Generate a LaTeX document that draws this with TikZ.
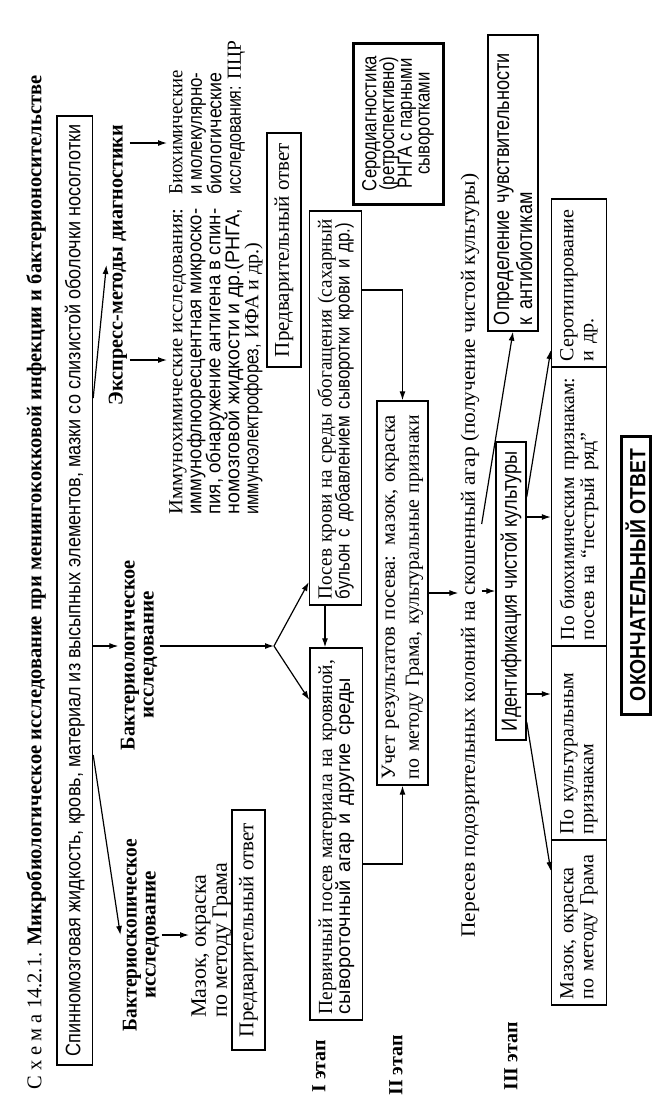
\documentclass[tikz,border=0pt]{standalone}
\usepackage{graphicx}
\usepackage{fontspec}
\setmainfont{Liberation Serif}
\newfontfamily\nsans{Liberation Sans}[FakeStretch=0.82]
\usetikzlibrary{arrows.meta}
\newcommand\fit[2]{\resizebox{#1}{\height}{#2}}
\newcommand\fs{\rmfamily\fontsize{10}{9.5}\selectfont\lineskiplimit=-\maxdimen}
\newcommand\fbio{\rmfamily\fontsize{10}{9.75}\selectfont\lineskiplimit=-\maxdimen}
\newcommand\fn{\nsans\fontsize{10.2}{8.9}\selectfont\lineskiplimit=-\maxdimen}
\newcommand\ftop{\nsans\fontsize{10.5}{10.5}\selectfont}
\newcommand\fh{\bfseries\fontsize{10.5}{9.5}\selectfont\lineskiplimit=-\maxdimen}
\newcommand\fst{\bfseries\fontsize{10}{10}\selectfont}
\newcommand\fps{\rmfamily\fontsize{10}{9}\selectfont\lineskiplimit=-\maxdimen}
\newcommand\fb{\rmfamily\fontsize{10}{10}\selectfont\lineskiplimit=-\maxdimen}
\newcommand\fm{\rmfamily\fontsize{11}{10.5}\selectfont\lineskiplimit=-\maxdimen}
\newcommand\fpa{\rmfamily\fontsize{10.5}{10.5}\selectfont}
\newcommand\fu{\rmfamily\fontsize{10}{12}\selectfont}
\newcommand\fid{\nsans\fontsize{11}{11}\selectfont}
\newcommand\fop{\nsans\fontsize{11}{11.5}\selectfont}
\newcommand\ffin{\nsans\bfseries\fontsize{11}{11}\selectfont}
\newcommand\ftitle{\rmfamily\fontsize{10.5}{12}\selectfont}
\newcommand\fper{\rmfamily\fontsize{10.2}{12}\selectfont}
\begin{document}
\begin{tikzpicture}[x=0.5pt,y=-0.5pt,
  every node/.append style={rotate=90},
  box/.style={draw, line width=0.7pt, inner xsep=3pt, inner ysep=1pt},
  tbox/.style={box, line width=1.5pt},
  arr/.style={line width=0.6pt, -{Latex[length=4.5pt,width=3pt]}},
  lbl/.style={inner sep=1pt}]
\useasboundingbox (0,0) rectangle (671,1116);

% title
\node[lbl, font=\ftitle] (title) at (36,582.5)
  {\fit{507pt}{С\hspace{0.25em}х\hspace{0.25em}е\hspace{0.25em}м\hspace{0.25em}а 14.2.1. \textbf{Микробиологическое исследование при менингококковой инфекции и бактерионосительстве}}};

% source
\node[box, minimum width=474.5pt, minimum height=17.75pt, font=\ftop] (top) at (74.75,590.5)
  {\fit{466pt}{Спинномозговая жидкость, кровь, материал из высыпных элементов, мазки со слизистой оболочки носоглотки}};

% headers
\node[lbl, font=\fh] (exp) at (118,265) {\fit{140pt}{Экспресс-методы диагностики}};
\node[lbl, font=\fh, align=center] (bac) at (139,655) {\fit{95pt}{Бактериологическое}\\исследование};
\node[lbl, font=\fh, align=center] (bsc) at (141,935) {\fit{96pt}{Бактериоскопическое}\\исследование};

% bacterioscopy
\node[lbl, font=\fm, align=left, anchor=north west] (mz1) at (189,1020)
  {Мазок, окраска\\по методу Грама};
\node[box, minimum width=120pt, minimum height=16.5pt, font=\fpa] (pa1) at (248.5,930) {Предварительный ответ};

% express
\node[lbl, font=\fs, align=left, anchor=north west] (imm) at (167,517)
  {\fit{153pt}{Иммунохимические исследования:}\\\fit{153pt}{\nsans иммунофлюоресцентная микроско-}\\\fit{153pt}{\nsans пия, обнаружение антигена в спин-}\\\fit{153pt}{\nsans номозговой жидкости и др.(РНГА,}\\{\nsans иммуноэлектрофорез,} ИФА и др.)};
\node[lbl, font=\fbio, align=left, anchor=north west] (bio) at (167,197)
  {\fit{62pt}{Биохимические}\\\fit{61pt}{\nsans и молекулярно-}\\\fit{61pt}{\nsans биологические}\\\fit{77pt}{{\nsans исследования:} ПЦР}};
\node[box, minimum width=117pt, minimum height=17pt, font=\fpa] (pa2) at (284,250) {Предварительный ответ};

% serodiagnosis
\node[tbox, minimum width=80.5pt, minimum height=45pt, align=center, font=\fn] (ser) at (398,123.5)
  {Серодиагностика\\(ретроспективно)\\РНГА с парными\\сыворотками};

% bacteriology, stage I
\node[box, text width=191pt, minimum height=26pt, align=left, font=\fps] (psk) at (335.5,408)
  {\fit{190pt}{Посев крови на среды обогащения (сахарный}\\\fit{188pt}{\nsans бульон с добавлением сыворотки крови и др.)}};
\node[box, text width=180pt, minimum height=26.25pt, align=left, font=\fps] (prv) at (336.25,834)
  {\fit{177pt}{Первичный посев материала на кровяной,}\\\fit{168pt}{\nsans сывороточный агар и другие среды}};

% stage II
\node[box, text width=186pt, minimum height=25.5pt, align=left, font=\fu] (uch) at (402.5,593)
  {\fit{182pt}{Учет результатов посева: мазок, окраска}\\\fit{182pt}{по методу Грама, культуральные признаки}};

% stage labels
\node[lbl, font=\fst, anchor=west] (st1) at (319,1095) {I этап};
\node[lbl, font=\fst, anchor=west] (st2) at (396,1098) {II этап};
\node[lbl, font=\fst, anchor=west] (st3) at (511,1093) {III этап};

% subculture
\node[lbl, font=\fper, anchor=west] (per) at (470,940)
  {\fit{382pt}{Пересев подозрительных колоний на скошенный агар (получение чистой культуры)}};

% stage III
\node[box, minimum width=149pt, minimum height=15pt, font=\fid] (idn) at (511,591) {\fit{140pt}{Идентификация чистой культуры}};
\node[box, text width=142pt, minimum height=25pt, align=left, font=\fop] (opr) at (513,183)
  {\fit{136pt}{Определение чувствительности}\\к антибиотикам};

\node[box, text width=76.5pt, minimum height=27.5pt, align=left, font=\fb] (b1) at (579,922.5) {Мазок, окраска\\по методу Грама};
\node[box, text width=91pt, minimum height=27.5pt, align=left, font=\fb] (b2) at (579,743) {По культуральным\\признакам};
\node[box, text width=133.5pt, minimum height=27.5pt, align=left, font=\fb] (b3) at (579,506.5) {\fit{131pt}{По биохимическим признакам:}\\посев на “пестрый ряд”};
\node[box, text width=78pt, minimum height=27.5pt, align=left, font=\fb] (b4) at (579,283) {Серотипирование\\и др.};

\node[tbox, minimum width=139pt, minimum height=14.5pt, font=\ffin] (fin) at (635.5,575) {\fit{126pt}{ОКОНЧАТЕЛЬНЫЙ ОТВЕТ}};

% connectors
\coordinate (j) at (274,646);
\draw[arr] (top.south |- 0,398) -- (exp.north);
\draw[arr] (top.south |- 0,646) -- (bac.north |- 0,646);
\draw[arr] (top.south |- 0,755) -- (bsc.north);
\draw[arr] (exp.south |- 0,360) -- (imm.north |- 0,360);
\draw[arr] (exp.south |- 0,143) -- (bio.north |- 0,143);
\draw[arr] (bsc.south |- 0,935) -- (mz1.north |- 0,935);
\draw[arr] (bac.south |- j) -- (j);
\draw[arr] (j) -- (psk.north |- 0,582);
\draw[arr] (j) -- (prv.north |- 0,700);
\draw[arr] (psk.west -| 325,0) -- (prv.east -| 325,0);
\draw[arr] (psk.south |- 0,290) -| (uch.east);
\draw[arr] (prv.south |- 0,864) -| (uch.west);
\draw[arr] (uch.south) -- (uch.south -| per.north);
\draw[arr] (idn.north -| per.south) -- (idn.north);
\draw[arr] (per.south |- 0,524) -- (opr.west);
\draw[arr] (idn.south |- 0,517) -- (b3.north |- 0,517);
\draw[arr] (idn.south |- 0,694) -- (b2.north |- 0,694);
\draw[arr] (idn.south |- 0,722) -- (b1.north |- 0,871);
\draw[arr] (idn.south |- 0,497) -- (b4.north |- 0,350);
\end{tikzpicture}
\end{document}
